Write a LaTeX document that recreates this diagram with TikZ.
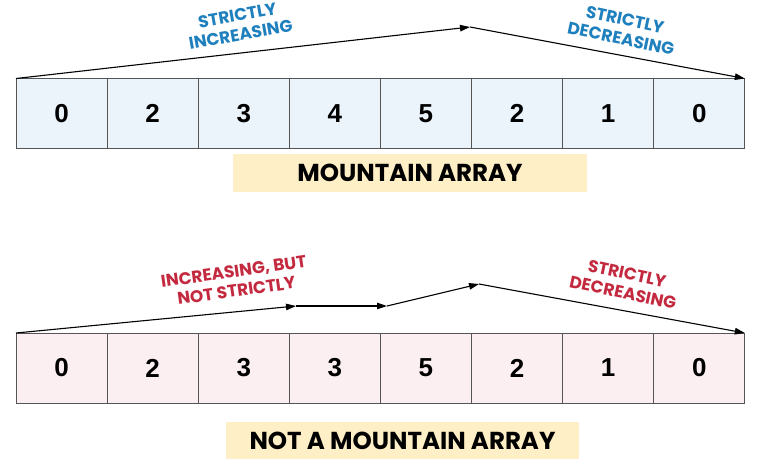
\documentclass[tikz,border=0pt]{standalone}
\usepackage{fontspec}
\setmainfont{Liberation Sans}
\newfontfamily\handfont{Poppins}
\usetikzlibrary{arrows.meta}
\definecolor{cellblue}{HTML}{EBF3FB}
\definecolor{cellpink}{HTML}{FCEFF2}
\definecolor{labelbg}{HTML}{FFEFC6}
\definecolor{handblue}{HTML}{1F80BE}
\definecolor{handred}{HTML}{C42A3F}
\definecolor{cellline}{HTML}{555555}
\tikzset{
  cellbox/.style={draw=cellline, line width=0.9pt, minimum width=91.1pt, minimum height=70pt, inner sep=0pt, outer sep=0pt, anchor=north west, font=\bfseries\fontsize{26}{28}\selectfont},
  titlebox/.style={fill=labelbg, inner sep=0pt, font=\handfont\bfseries\fontsize{24.5}{26}\selectfont},
  handlabel/.style={align=center, font=\handfont\bfseries\fontsize{17}{19.5}\selectfont, inner sep=0pt},
  flow/.style={line width=1.1pt, -{Triangle[length=10pt,width=6.5pt]}}
}
\begin{document}
\begin{tikzpicture}[x=1pt,y=-1pt]
\useasboundingbox (0,0) rectangle (775,472);
% top array
\foreach \v [count=\i] in {0,2,3,4,5,2,1,0} {
  \node[cellbox, fill=cellblue] (a\i) at ({16+(\i-1)*91.1},78.5) {\v};
}
% bottom array
\foreach \v [count=\i] in {0,2,3,3,5,2,1,0} {
  \node[cellbox, fill=cellpink] (b\i) at ({16+(\i-1)*91.1},333) {\v};
}
% titles
\node[titlebox, minimum width=354pt, minimum height=38pt] (t1) at (410,173) {MOUNTAIN ARRAY};
\node[titlebox, minimum width=353pt, minimum height=37pt] (t2) at (402.5,440.5) {NOT A MOUNTAIN ARRAY};
% top arrows
\coordinate (apeak) at (470,27);
\draw[flow] (a1.north west) -- (apeak);
\draw[flow] (apeak) -- (a8.north east);
\node[handlabel, text=handblue, rotate=10] (lab1) at (239,25) {STRICTLY\\INCREASING};
\node[handlabel, text=handblue, rotate=-12] (lab2) at (623,29) {STRICTLY\\DECREASING};
% bottom arrows
\coordinate (bp1) at (296,306);
\coordinate (bp2) at (387,306);
\coordinate (bpeak) at (479,284);
\draw[flow] (b1.north west) -- (bp1);
\draw[flow] (bp1) -- (bp2);
\draw[flow] (bp2) -- (bpeak);
\draw[flow] (bpeak) -- (b8.north east);
\node[handlabel, text=handred, rotate=8] (lab3) at (235,281) {INCREASING, BUT\\NOT STRICTLY};
\node[handlabel, text=handred, rotate=-12] (lab4) at (625,283) {STRICTLY\\DECREASING};
\end{tikzpicture}
\end{document}
